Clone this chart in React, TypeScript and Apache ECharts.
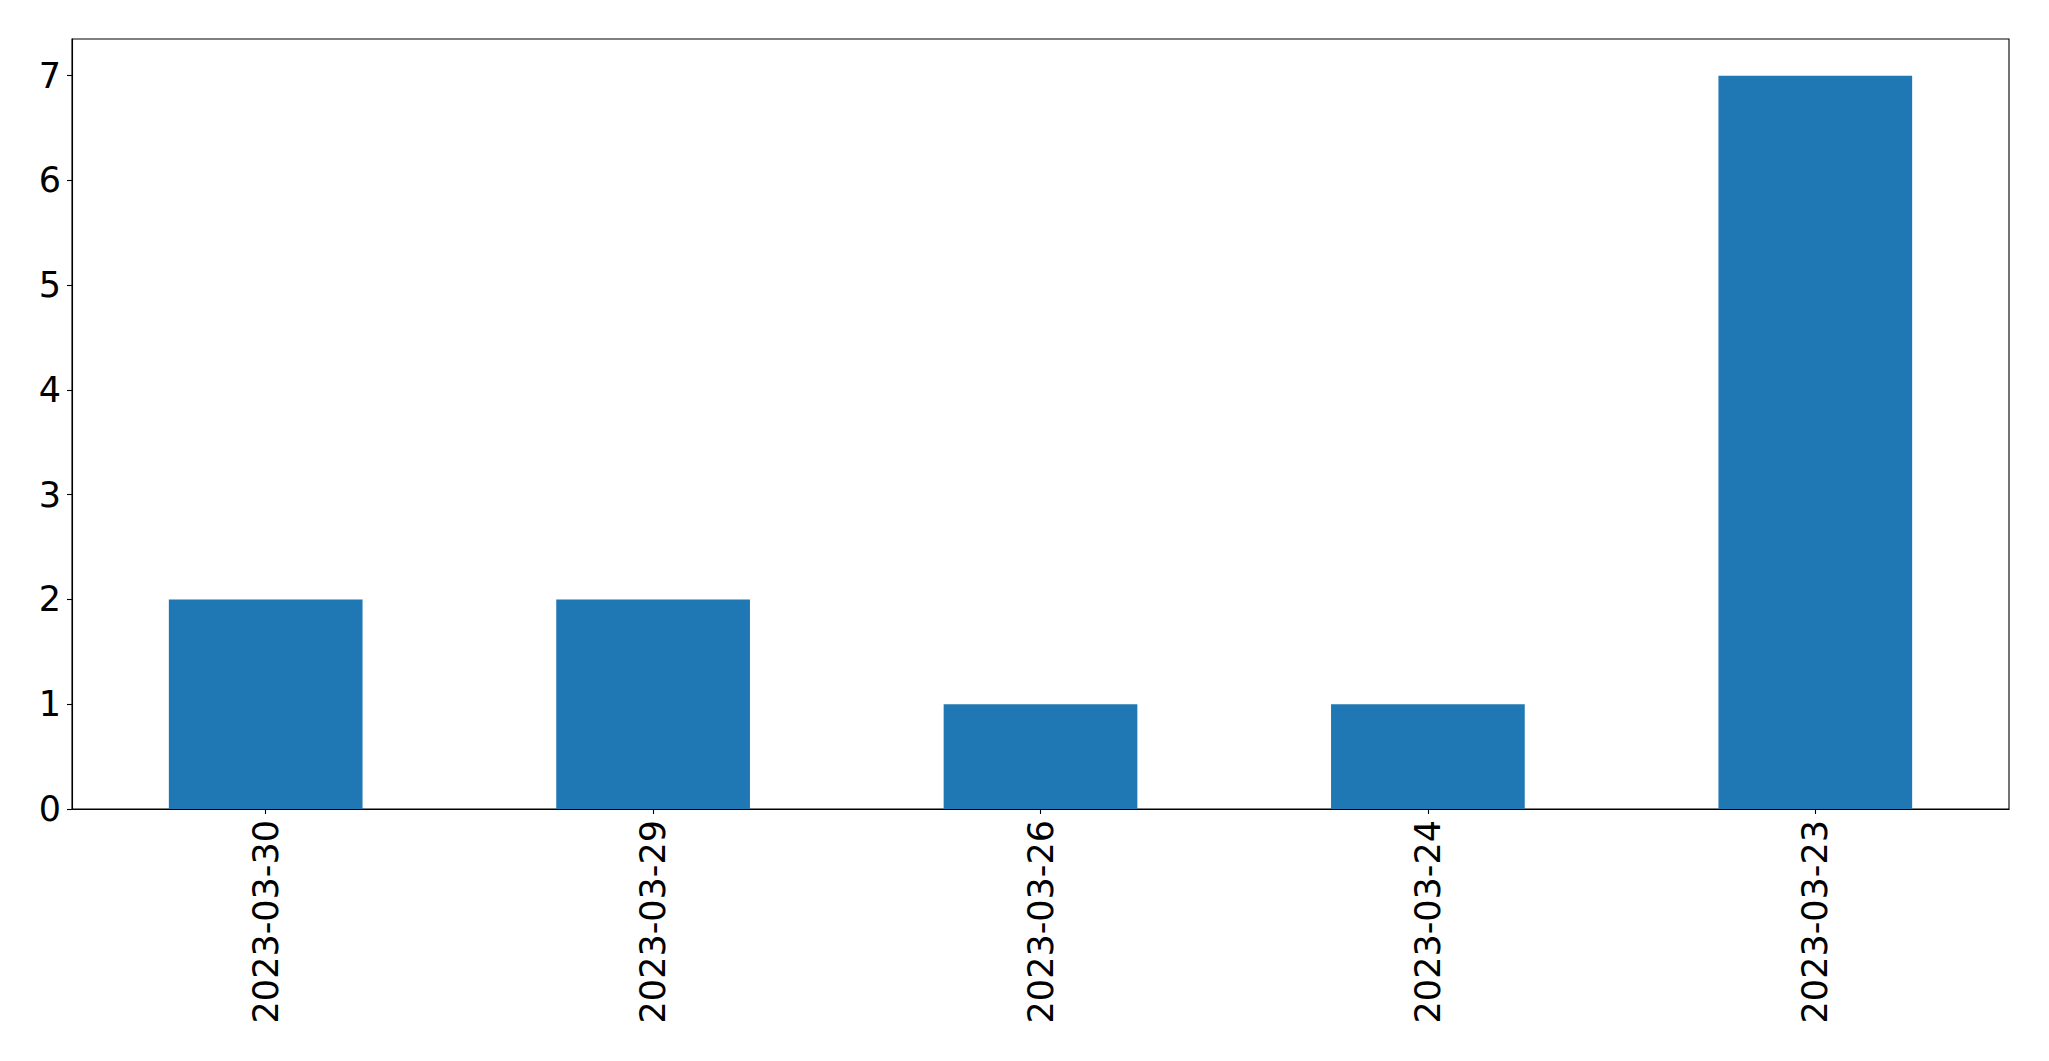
import React, { useEffect, useRef } from "react";
import * as echarts from "echarts";

const categories = ["2023-03-30", "2023-03-29", "2023-03-26", "2023-03-24", "2023-03-23"];
const counts = [2, 2, 1, 1, 7];
const yTicks = [0, 1, 2, 3, 4, 5, 6, 7];

export default function App() {
  const ref = useRef<HTMLDivElement>(null);
  useEffect(() => {
    if (!ref.current) return;
    const chart = echarts.init(ref.current, null, { renderer: "svg" });
    const font = "DejaVu Sans";
    chart.setOption({
      animation: false,
      backgroundColor: "#ffffff",
      grid: {
        left: 72,
        right: 40,
        top: 39,
        bottom: 252,
        show: true,
        borderColor: "#000000",
        borderWidth: 1.1,
        containLabel: false,
      },
      xAxis: {
        type: "category",
        data: categories,
        boundaryGap: true,
        axisLine: { show: true, lineStyle: { color: "#000", width: 1.1 } },
        axisTick: { show: true, alignWithLabel: true, interval: 0, length: 5, lineStyle: { color: "#000", width: 1.1 } },
        axisLabel: {
          interval: 0,
          rotate: 90,
          margin: 11,
          color: "#000",
          fontFamily: font,
          fontSize: 35,
        },
        splitLine: { show: false },
      },
      yAxis: {
        type: "value",
        min: 0,
        max: 7.35,
        interval: 1,
        axisLine: { show: true, lineStyle: { color: "#000", width: 1.1 } },
        axisTick: { show: true, length: 5, lineStyle: { color: "#000", width: 1.1 } },
        axisLabel: {
          showMaxLabel: false,
          margin: 11,
          color: "#000",
          fontFamily: font,
          fontSize: 35,
          formatter: (v: number) => (yTicks.includes(v) ? String(v) : ""),
        },
        splitLine: { show: false },
      },
      series: [
        {
          type: "bar",
          data: counts,
          barWidth: "50%",
          itemStyle: { color: "#1f77b4" },
        },
      ],
    });
    return () => chart.dispose();
  }, []);
  return (
    <div
      ref={ref}
      style={{ position: "fixed", left: 0, top: 0, width: 2049, height: 1061, background: "#fff" }}
    />
  );
}
